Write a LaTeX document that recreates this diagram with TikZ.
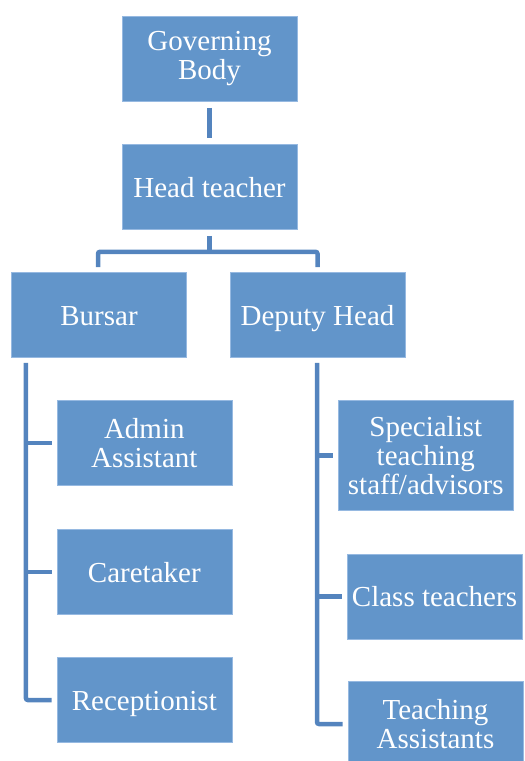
\documentclass[tikz,border=0pt]{standalone}
\usepackage{fontspec}
\setmainfont{Liberation Serif}
\usetikzlibrary{calc, positioning}

\definecolor{boxblue}{RGB}{98,149,202}
\definecolor{boxedge}{RGB}{150,185,225}
\definecolor{lineblue}{RGB}{84,132,190}

\tikzset{
    staffbox/.style = {fill = boxblue, draw = boxedge, line width = 0.6pt, text = white, align = center,
        minimum width = 175pt, minimum height = 85pt, inner sep = 0pt,
        font = \fontsize{29}{29}\selectfont},
    oneline/.style = {text height = 21pt, text depth = 1pt},
    link/.style = {draw = lineblue, line width = 4.5pt, rounded corners = 2pt}
}

\begin{document}
\begin{tikzpicture}[x = 1pt, y = -1pt]
            \useasboundingbox (0, 0) rectangle (525, 761);
            
            % top of the tree
            \node[staffbox] (gov) at (209.5, 59) {Governing\\Body};
            \node[staffbox, oneline] (head) at (209.5, 187) {Head teacher};
            \node[staffbox, oneline] (bursar) at (99, 315) {Bursar};
            \node[staffbox, oneline] (deputy) at (317.5, 315) {Deputy Head};
            
            % bursar's staff
            \node[staffbox] (admin) at (144.3, 443) {Admin\\Assistant};
            \node[staffbox, oneline] (care) at (144.3, 572) {Caretaker};
            \node[staffbox, oneline] (recep) at (144.3, 700) {Receptionist};
            
            % deputy's staff
            \node[staffbox, minimum height = 110pt] (spec) at (425.8, 455.3) {Specialist\\teaching\\staff/advisors};
            \node[staffbox, oneline] (class) at (434.5, 596.3) {Class teachers};
            \node[staffbox] (ta) at (435.5, 724) {Teaching\\Assistants};
            
            \draw[link] ([yshift = -6pt]gov.south) -- ([yshift = 6pt]head.north);
            \draw[link] ([yshift = -6pt]head.south) -- ([yshift = -22pt]head.south);
            \draw[link] ([xshift = -1pt, yshift = 5pt]bursar.north) |- ([yshift = -22pt]head.south) -| ([yshift = 5pt]deputy.north);
            
            \coordinate (bspine) at ([xshift = 14.7pt, yshift = -5pt]bursar.south west);
            \draw[link] (bspine) |- ([xshift = -5pt]recep.west);
            \foreach \n in {admin, care}
                \draw[link] (\n.west -| bspine) -- ([xshift = -5pt]\n.west);
            
            \coordinate (dspine) at ([xshift = -0.5pt, yshift = -5pt]deputy.south);
            \draw[link] (dspine) |- ([xshift = -5pt]ta.west);
            \foreach \n in {spec, class}
                \draw[link] (\n.west -| dspine) -- ([xshift = -5pt]\n.west);
        \end{tikzpicture}
\end{document}
